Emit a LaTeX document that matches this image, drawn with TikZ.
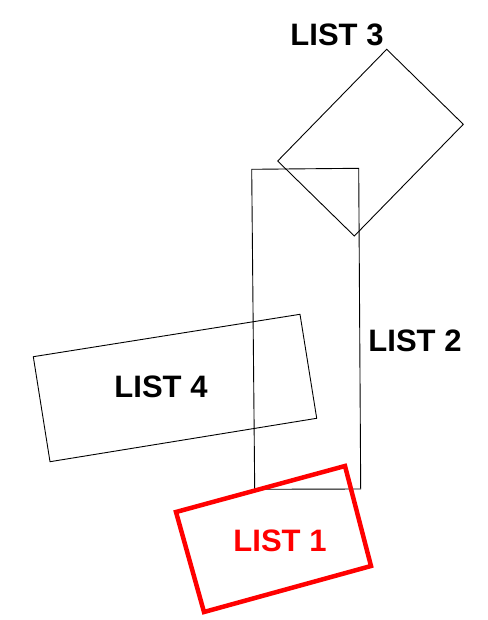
\documentclass[tikz,border=0pt]{standalone}
\usepackage{fontspec}
\setmainfont{Liberation Sans}
\begin{document}
\begin{tikzpicture}[x=1pt,y=-1pt,
  sheet/.style={draw=black,line width=0.9pt,line join=miter},
  redsheet/.style={draw=red,line width=4.5pt,line join=miter},
  lbl/.style={font=\fontsize{31}{31}\selectfont\bfseries,inner sep=0pt}]
\useasboundingbox (0,0) rectangle (487,620);
% LIST 3
\draw[sheet] (386.7,49.3) -- (463.3,124.3) -- (354.3,236) -- (277.7,161) -- cycle;
% LIST 2
\draw[sheet] (251.7,169.3) -- (358.7,168.3) -- (360.7,489) -- (254.7,489.3) -- cycle;
% LIST 4
\draw[sheet] (33.3,356.7) -- (300,314.3) -- (316.7,418.3) -- (50,461.7) -- cycle;
% LIST 1
\draw[redsheet] (176,512) -- (345,466) -- (371,566) -- (204,612) -- cycle;
\node[lbl] (l3) at (337,35) {LIST 3};
\node[lbl] (l2) at (415,341) {LIST 2};
\node[lbl] (l4) at (161,387) {LIST 4};
\node[lbl,text=red] (l1) at (280,541) {LIST 1};
\end{tikzpicture}
\end{document}
